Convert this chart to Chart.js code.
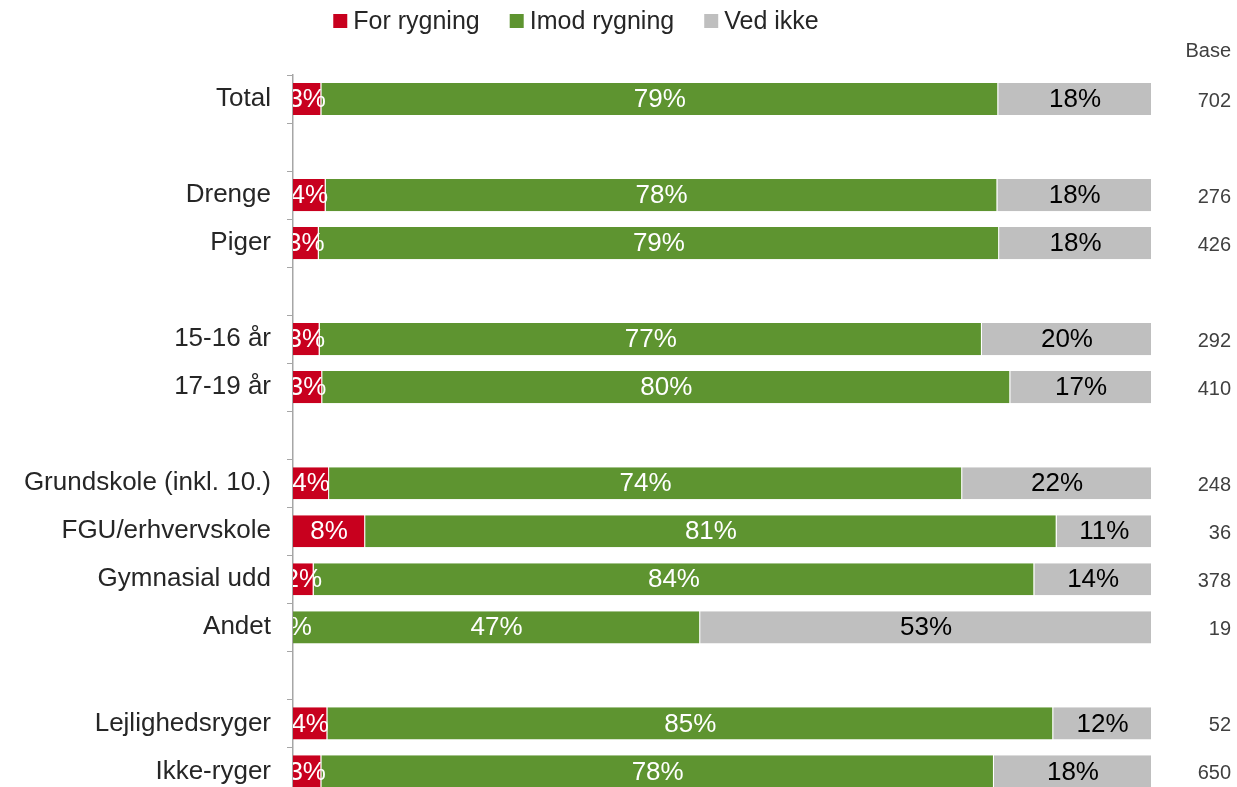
<!DOCTYPE html>
<html>
<head>
<meta charset="utf-8">
<script src="https://cdn.jsdelivr.net/npm/chart.js@4/dist/chart.umd.min.js"></script>
<style>
  html, body { margin: 0; padding: 0; background: #fff; overflow: hidden; }
  canvas { display: block; }
</style>
</head>
<body>
<canvas id="chart-canvas" width="1237" height="827"></canvas>
<script>
// rows, empty strings are the spacer rows between groups
var categories = ['Total', '', 'Drenge', 'Piger', '', '15-16 år', '17-19 år', '',
  'Grundskole (inkl. 10.)', 'FGU/erhvervskole', 'Gymnasial udd', 'Andet', '',
  'Lejlighedsryger', 'Ikke-ryger'];

var forRygning = [3.3, null, 3.8, 3.0, null, 3.1, 3.4, null, 4.2, 8.4, 2.4, 0, null, 4.0, 3.3];
var imodRygning = [78.8, null, 78.2, 79.2, null, 77.1, 80.1, null, 73.7, 80.5, 83.9, 47.4, null, 84.5, 78.3];
var vedIkke = [17.9, null, 18.0, 17.8, null, 19.8, 16.5, null, 22.1, 11.1, 13.7, 52.6, null, 11.5, 18.4];

var base = ['702', '', '276', '426', '', '292', '410', '', '248', '36', '378', '19', '', '52', '650'];

var seriesNames = ['For rygning', 'Imod rygning', 'Ved ikke'];
var colors = ['#C8001E', '#5E9430', '#BFBFBF'];
var labelColors = ['#ffffff', '#ffffff', '#000000'];

var FONT = '"Liberation Sans", Arial, sans-serif';

var canvas = document.getElementById('chart-canvas');
var ctx = canvas.getContext('2d');

// percent labels inside the segments, clipped to the plot area
var barLabels = {
  id: 'barLabels',
  afterDatasetsDraw: function(chart) {
    var c = chart.ctx;
    var area = chart.chartArea;
    c.save();
    c.beginPath();
    c.rect(area.left, area.top, area.right - area.left, area.bottom - area.top);
    c.clip();
    c.font = '26px ' + FONT;
    c.textAlign = 'center';
    c.textBaseline = 'middle';
    chart.data.datasets.forEach(function(ds, i) {
      var meta = chart.getDatasetMeta(i);
      meta.data.forEach(function(bar, j) {
        var v = ds.data[j];
        if (v === null || v === undefined) return;
        var p = bar.getProps(['x', 'y', 'base'], true);
        c.fillStyle = labelColors[i];
        c.fillText(Math.round(v) + '%', (p.x + p.base) / 2, p.y + 1);
      });
    });
    c.restore();
  }
};

// legend drawn by hand so the spacing matches
var topLegend = {
  id: 'topLegend',
  afterDraw: function(chart) {
    var c = chart.ctx;
    c.save();
    c.font = '25px ' + FONT;
    c.textBaseline = 'middle';
    c.textAlign = 'left';
    var gapBox = 6, gapItem = 30, box = 14;
    var total = 0;
    seriesNames.forEach(function(n) { total += box + gapBox + c.measureText(n).width; });
    total += gapItem * (seriesNames.length - 1);
    var x = 576 - total / 2;
    var y = 21;
    seriesNames.forEach(function(n, i) {
      c.fillStyle = colors[i];
      c.fillRect(x, y - box / 2, box, box);
      x += box + gapBox;
      c.fillStyle = '#262626';
      c.fillText(n, x, y + 1);
      x += c.measureText(n).width + gapItem;
    });
    c.restore();
  }
};

// base column to the right of the bars
var baseColumn = {
  id: 'baseColumn',
  afterDraw: function(chart) {
    var c = chart.ctx;
    var yScale = chart.scales.y;
    c.save();
    c.fillStyle = '#404040';
    c.textAlign = 'right';
    c.textBaseline = 'middle';
    c.font = '20px ' + FONT;
    c.fillText('Base', 1231, 51);
    base.forEach(function(b, i) {
      if (!b) return;
      c.fillText(b, 1231, yScale.getPixelForValue(i) + 2);
    });
    c.restore();
  }
};

var chart = new Chart(ctx, {
  type: 'bar',
  data: {
    labels: categories,
    datasets: [
      { label: seriesNames[0], data: forRygning, backgroundColor: colors[0] },
      { label: seriesNames[1], data: imodRygning, backgroundColor: colors[1] },
      { label: seriesNames[2], data: vedIkke, backgroundColor: colors[2] }
    ]
  },
  options: {
    indexAxis: 'y',
    responsive: false,
    animation: false,
    datasets: {
      bar: {
        barPercentage: 0.67,
        categoryPercentage: 1.0,
        borderWidth: { right: 1 },
        borderColor: '#ffffff',
        borderSkipped: false
      }
    },
    layout: { padding: { left: 0, right: 85, top: 75, bottom: 15 } },
    scales: {
      x: {
        stacked: true,
        min: 0,
        max: 100,
        display: false
      },
      y: {
        stacked: true,
        afterFit: function(scale) { scale.width = 293; },
        grid: {
          drawOnChartArea: false,
          drawTicks: true,
          tickLength: 6,
          offset: true,
          color: '#A6A6A6'
        },
        border: { color: '#A6A6A6', width: 1.5 },
        ticks: {
          color: '#262626',
          padding: 16,
          font: { family: FONT, size: 26 }
        }
      }
    },
    plugins: {
      legend: { display: false },
      tooltip: { enabled: false }
    }
  },
  plugins: [barLabels, topLegend, baseColumn]
});
</script>
</body>
</html>
